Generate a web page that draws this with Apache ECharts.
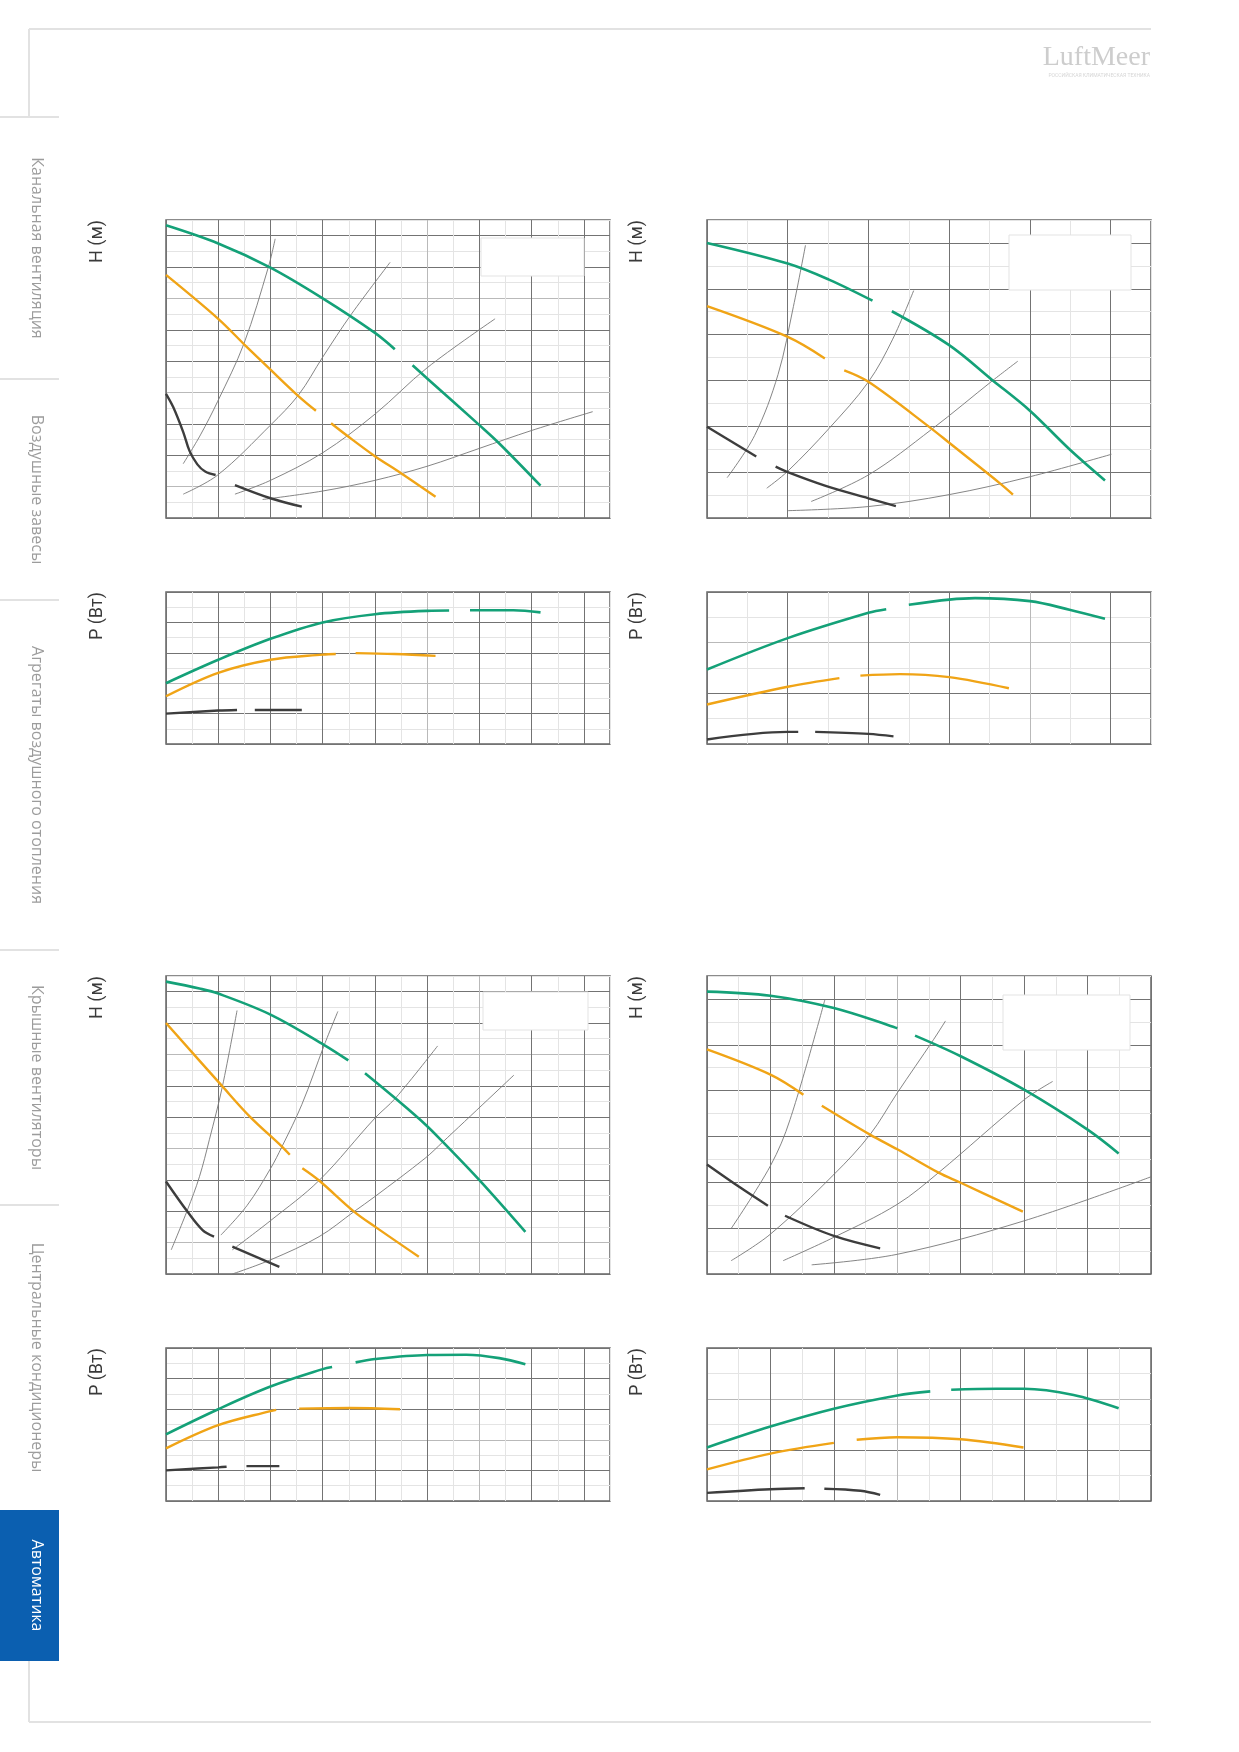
<!DOCTYPE html>
<html>
<head>
<meta charset="utf-8">
<script src="https://cdn.jsdelivr.net/npm/echarts@6.0.0/dist/echarts.min.js"></script>
</head>
<body style="margin:0;background:#fff">
<div id="container" style="width:1239px;height:1752px"></div>
<script>
// values are in grid units (one major cell = 1)
// gaps in a curve are kept as separate segments

// top-left H
var tlHGreen = [[[0,9.33],[1,8.75],[2,7.98],[3,7.0],[4,5.9],[4.38,5.38]],
                [[4.72,4.87],[5,4.45],[6,2.96],[6.39,2.36],[7.17,1.03]]];
var tlHOrange = [[[0,7.75],[1,6.35],[1.5,5.53],[2,4.73],[2.54,3.88],[2.87,3.42]],
                 [[3.16,3.02],[3.47,2.62],[4,1.97],[4.5,1.43],[5.16,0.68]]];
var tlHDark = [[[0,3.96],[0.14,3.53],[0.33,2.74],[0.45,2.14],[0.6,1.71],[0.75,1.48],[0.95,1.37]],
               [[1.32,1.05],[2,0.63],[2.6,0.36]]];
var tlHThin = [
  [[0.33,1.73],[0.66,2.65],[0.99,3.72],[1.49,5.55],[1.96,8.0],[2.09,8.9]],
  [[0.33,0.76],[0.99,1.37],[2,2.96],[2.54,3.93],[3,5.13],[3.55,6.5],[4.29,8.15]],
  [[1.32,0.76],[2,1.2],[3,2.08],[4,3.31],[5,4.79],[6.3,6.35]],
  [[1.85,0.59],[3,0.86],[4,1.2],[5,1.65],[6,2.22],[7,2.79],[8.17,3.39]]
];
// top-left P
var tlPGreen = [[[0,2.0],[1,2.77],[2,3.46],[3,4.0],[4,4.27],[5,4.38],[5.42,4.39]],
                [[5.82,4.4],[6.65,4.4],[7.17,4.33]]];
var tlPOrange = [[[0,1.57],[1,2.34],[2,2.77],[3,2.94],[3.25,2.96]],
                 [[3.63,2.99],[4.38,2.96],[5.16,2.9]]];
var tlPDark = [[[0,1.0],[1,1.1],[1.36,1.12]], [[1.7,1.12],[2.6,1.12]]];

// top-right H
var trHGreen = [[[0,6.0],[1,5.55],[1.51,5.2],[2.05,4.74]],
                [[2.29,4.51],[3,3.77],[3.54,3.0],[4,2.34],[4.49,1.5],[4.93,0.82]]];
var trHOrange = [[[0,4.62],[1,3.95],[1.46,3.48]],
                 [[1.7,3.22],[2,2.97],[2.78,1.95],[3,1.64],[3.64,0.74],[3.79,0.51]]];
var trHDark = [[[0,1.99],[0.61,1.34]], [[0.85,1.12],[1,1.0],[1.47,0.7],[2,0.43],[2.34,0.26]]];
var trHThin = [
  [[0.25,0.88],[0.59,1.8],[0.88,3.13],[1.07,4.61],[1.22,5.95]],
  [[0.74,0.65],[1,1.02],[1.51,1.95],[2,2.97],[2.3,3.9],[2.56,4.96]],
  [[1.29,0.36],[2,0.94],[2.78,1.93],[3.54,3.0],[3.85,3.42]],
  [[1,0.16],[2,0.25],[3,0.51],[4,0.9],[5.01,1.39]]
];
// top-right P
var trPGreen = [[[0,1.47],[1,2.09],[2,2.59],[2.22,2.66]],
                [[2.5,2.75],[3,2.85],[3.32,2.88],[4,2.82],[4.49,2.65],[4.93,2.47]]];
var trPOrange = [[[0,0.78],[1,1.13],[1.64,1.3]], [[1.9,1.35],[2.39,1.38],[3,1.32],[3.74,1.1]]];
var trPDark = [[[0,0.09],[1,0.24],[1.13,0.24]], [[1.34,0.24],[2,0.2],[2.31,0.15]]];

// bottom-left H
var blHGreen = [[[0,9.32],[0.64,9.1],[1,8.94],[2,8.27],[3.03,7.3],[3.49,6.81]],
                [[3.81,6.4],[4.39,5.6],[4.97,4.76],[5.3,4.21],[6,2.99],[6.88,1.34]]];
var blHOrange = [[[0,8.0],[1.08,5.98],[1.61,5.01],[2.22,4.06],[2.37,3.8]],
                 [[2.61,3.37],[2.93,2.98],[3.6,1.99],[4,1.51],[4.84,0.55]]];
var blHDark = [[[0,2.95],[0.41,1.99],[0.7,1.4],[0.92,1.19]], [[1.27,0.87],[2.17,0.23]]];
var blHThin = [
  [[0.1,0.77],[0.41,2.04],[0.64,3.1],[0.83,4.28],[1.08,5.98],[1.36,8.4]],
  [[1.05,1.24],[1.55,2.18],[2,3.36],[2.22,4.06],[2.6,5.4],[3.03,7.3],[3.29,8.37]],
  [[1.27,0.77],[2,1.7],[2.93,2.98],[4,4.97],[4.39,5.6],[5.2,7.27]],
  [[1.27,0.0],[2,0.45],[2.93,1.19],[3.6,1.99],[4,2.47],[4.96,3.69],[5.3,4.21],[6.66,6.34]]
];
// bottom-left P
var blPGreen = [[[0,2.18],[1,3.0],[2,3.74],[3,4.31],[3.18,4.38]],
                [[3.63,4.53],[4,4.64],[5,4.77],[5.75,4.78],[6.38,4.67],[6.88,4.47]]];
var blPOrange = [[[0,1.72],[1,2.48],[2,2.94],[2.11,2.98]], [[2.55,3.02],[3.52,3.04],[4.48,3.0]]];
var blPDark = [[[0,1.0],[1,1.1],[1.16,1.12]], [[1.54,1.14],[2.17,1.14]]];

// bottom-right H
var brHGreen = [[[0,6.16],[1,6.07],[2,5.8],[3,5.36]],
                [[3.28,5.2],[4,4.75],[5,4.02],[6,3.15],[6.49,2.63]]];
var brHOrange = [[[0,4.9],[1,4.35],[1.52,3.91]],
                 [[1.81,3.67],[2.57,3.04],[3,2.72],[3.65,2.21],[4,1.99],[4.98,1.36]]];
var brHDark = [[[0,2.39],[0.53,1.88],[0.96,1.49]], [[1.23,1.27],[2,0.83],[2.73,0.56]]];
var brHThin = [
  [[0.38,0.99],[1,2.36],[1.31,3.37],[1.86,5.99]],
  [[0.38,0.29],[1,0.87],[2,2.17],[2.57,3.04],[3,3.95],[3.57,5.11],[3.76,5.52]],
  [[1.2,0.29],[2,0.8],[3,1.52],[3.65,2.21],[5,3.8],[5.45,4.2]],
  [[1.65,0.2],[3,0.43],[5,1.16],[7,2.12]]
];
// bottom-right P
var brPGreen = [[[0,1.05],[1,1.46],[2,1.81],[3,2.07],[3.52,2.15]],
                [[3.85,2.18],[4.57,2.2],[5,2.2],[5.78,2.08],[6.49,1.82]]];
var brPOrange = [[[0,0.62],[1,0.93],[2,1.14]], [[2.36,1.2],[3,1.25],[4,1.21],[4.99,1.05]]];
var brPDark = [[[0,0.16],[1,0.23],[1.54,0.25]], [[1.85,0.24],[2.42,0.2],[2.73,0.12]]];

var tabNames = ['Канальная вентиляция', 'Воздушные завесы', 'Агрегаты воздушного отопления',
                'Крышные вентиляторы', 'Центральные кондиционеры', 'Автоматика'];

// layout
var panels = [
  {left:166, top:220, width:444, height:298, xMax:8.5, yMax:9.5, xLight:[5], yLight:[1,4,7], label:'H (м)',
   curves:[[tlHThin,'thin'],[tlHDark,'dark'],[tlHOrange,'orange'],[tlHGreen,'green']]},
  {left:166, top:592, width:444, height:152, xMax:8.5, yMax:5, xLight:[5], yLight:[2], label:'P (Вт)',
   curves:[[tlPDark,'dark'],[tlPOrange,'orange'],[tlPGreen,'green']]},
  {left:707, top:220, width:444, height:298, xMax:5.5, yMax:6.5, xLight:[], yLight:[], label:'H (м)',
   curves:[[trHThin,'thin'],[trHDark,'dark'],[trHOrange,'orange'],[trHGreen,'green']]},
  {left:707, top:592, width:444, height:152, xMax:5.5, yMax:3, xLight:[4], yLight:[2], label:'P (Вт)',
   curves:[[trPDark,'dark'],[trPOrange,'orange'],[trPGreen,'green']]},
  {left:166, top:976, width:444, height:298, xMax:8.5, yMax:9.5, xLight:[6], yLight:[1,4,7], label:'H (м)',
   curves:[[blHThin,'thin'],[blHDark,'dark'],[blHOrange,'orange'],[blHGreen,'green']]},
  {left:166, top:1348, width:444, height:153, xMax:8.5, yMax:5, xLight:[6], yLight:[2], label:'P (Вт)',
   curves:[[blPDark,'dark'],[blPOrange,'orange'],[blPGreen,'green']]},
  {left:707, top:976, width:444, height:298, xMax:7, yMax:6.5, xLight:[3], yLight:[], label:'H (м)',
   curves:[[brHThin,'thin'],[brHDark,'dark'],[brHOrange,'orange'],[brHGreen,'green']]},
  {left:707, top:1348, width:444, height:153, xMax:7, yMax:3, xLight:[3], yLight:[2], label:'P (Вт)',
   curves:[[brPDark,'dark'],[brPOrange,'orange'],[brPGreen,'green']]}
];
var legendBoxes = [[481,238,103,38],[1009,235,122,55],[483,992,105,38],[1003,995,127,55]];
var tabEdges = [117, 379, 600, 950, 1205, 1510, 1661];

var styles = {
  green:  {color:'#14a178', width:2.6, z:4},
  orange: {color:'#f0a416', width:2.4, z:4},
  dark:   {color:'#3d3d3d', width:2.4, z:4},
  thin:   {color:'#777777', width:0.9, z:3}
};

function splitColors(max, light) {
  var c = [];
  for (var i = 0; i <= max * 2; i++) {
    if (i % 2) c.push('#e4e4e4');
    else c.push(light.indexOf(i / 2) >= 0 ? '#b9b9b9' : '#737373');
  }
  return c;
}

var grids = [], xAxes = [], yAxes = [], series = [], graphics = [];
panels.forEach(function (p, i) {
  grids.push({left:p.left, top:p.top, width:p.width, height:p.height, show:true,
              borderColor:'#666', borderWidth:1.5, backgroundColor:'#fff'});
  xAxes.push({gridIndex:i, type:'value', min:0, max:p.xMax, interval:0.5,
              axisLine:{show:false}, axisTick:{show:false}, axisLabel:{show:false},
              splitLine:{show:true, lineStyle:{color:splitColors(p.xMax, p.xLight), width:1}}});
  yAxes.push({gridIndex:i, type:'value', min:0, max:p.yMax, interval:0.5,
              axisLine:{show:false}, axisTick:{show:false}, axisLabel:{show:false},
              splitLine:{show:true, lineStyle:{color:splitColors(p.yMax, p.yLight), width:1}}});
  p.curves.forEach(function (c) {
    var st = styles[c[1]];
    c[0].forEach(function (seg) {
      series.push({type:'line', xAxisIndex:i, yAxisIndex:i, data:seg, smooth:0.35,
                   symbol:'none', silent:true, z:st.z,
                   lineStyle:{color:st.color, width:st.width, cap:'butt'}});
    });
  });
  graphics.push({type:'text', x:(p.left < 400 ? 97 : 637), y:p.top, rotation:Math.PI / 2,
                 style:{text:p.label, fill:'#3a3a3a', font:'18px Roboto',
                        textAlign:'right', textVerticalAlign:'middle'}});
});

legendBoxes.forEach(function (b) {
  graphics.push({type:'rect', z:10, shape:{x:b[0], y:b[1], width:b[2], height:b[3]},
                 style:{fill:'#fff', stroke:'#e3e3e3', lineWidth:1}});
});

// page frame and side tabs
var frame = '#e2e2e2';
graphics.push({type:'line', shape:{x1:29, y1:29, x2:1151, y2:29}, style:{stroke:frame, lineWidth:2}});
graphics.push({type:'line', shape:{x1:29, y1:29, x2:29, y2:117}, style:{stroke:frame, lineWidth:2}});
graphics.push({type:'line', shape:{x1:29, y1:1661, x2:29, y2:1722}, style:{stroke:frame, lineWidth:2}});
graphics.push({type:'line', shape:{x1:29, y1:1722, x2:1151, y2:1722}, style:{stroke:frame, lineWidth:2}});
graphics.push({type:'rect', shape:{x:0, y:1510, width:59, height:151}, style:{fill:'#0b5fb0'}});
tabNames.forEach(function (name, k) {
  var y0 = tabEdges[k], y1 = tabEdges[k + 1];
  var active = k === tabNames.length - 1;
  if (!active) {
    graphics.push({type:'line', shape:{x1:0, y1:y0, x2:59, y2:y0}, style:{stroke:frame, lineWidth:2}});
  }
  graphics.push({type:'text', x:37, y:(y0 + y1) / 2, rotation:-Math.PI / 2,
                 style:{text:name, fill:active ? '#ffffff' : '#9c9c9c', font:'16px "Open Sans"',
                        textAlign:'center', textVerticalAlign:'middle'}});
});

// logo
graphics.push({type:'text', x:1150, y:44, style:{text:'LuftMeer', fill:'#cdcdcd',
               font:'28px "Liberation Serif"', textAlign:'right', textVerticalAlign:'top'}});
graphics.push({type:'text', x:1150, y:76, style:{text:'РОССИЙСКАЯ КЛИМАТИЧЕСКАЯ ТЕХНИКА', fill:'#d6d6d6',
               font:'5px Roboto', textAlign:'right', textVerticalAlign:'middle'}});

var myChart = echarts.init(document.getElementById('container'), null, {renderer:'canvas'});
var option = {
  animation: false,
  backgroundColor: '#fff',
  grid: grids,
  xAxis: xAxes,
  yAxis: yAxes,
  series: series,
  graphic: graphics
};
myChart.setOption(option, true);
</script>
</body>
</html>
